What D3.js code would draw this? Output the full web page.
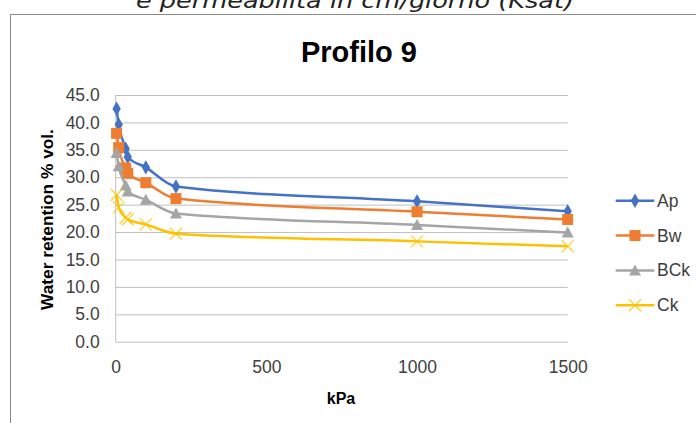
<!DOCTYPE html>
<html><head><meta charset="utf-8">
<script src="https://cdn.jsdelivr.net/npm/d3@7"></script>
<style>body{margin:0;background:#fff;} svg{display:block;}</style>
</head><body>
<svg id="c" width="696" height="423"></svg>
<script>
const kPa = [3, 10, 33, 40, 100, 200, 1000, 1500];
const Ap  = [42.5, 39.6, 35.2, 33.7, 31.8, 28.3, 25.6, 23.8];
const Bw  = [38.0, 35.4, 31.7, 30.7, 29.0, 26.1, 23.7, 22.3];
const BCk = [34.4, 32.0, 28.5, 27.4, 25.9, 23.4, 21.3, 19.9];
const Ck  = [26.8, 24.5, 22.6, 22.3, 21.4, 19.7, 18.3, 17.4];
const seriesNames = ["Ap", "Bw", "BCk", "Ck"];
const seriesColors = ["#4472C4", "#ED7D31", "#A5A5A5", "#FFC000"];
const seriesMarkers = ["diamond", "square", "triangle", "x"];
const yTicks = [0, 5, 10, 15, 20, 25, 30, 35, 40, 45];
const xTicks = [0, 500, 1000, 1500];
const title = "Profilo 9";
const xTitle = "kPa";
const yTitle = "Water retention % vol.";
const topText = "e permeabilità in cm/giorno (Ksat)";

const values = [Ap, Bw, BCk, Ck];
const svg = d3.select("#c");
const font = "'Liberation Sans', Arial, sans-serif";

const x = d3.scaleLinear().domain([0, 1500]).range([115.7, 567.7]);
const y = d3.scaleLinear().domain([0, 45]).range([341.7, 95]);

// top caption from the document (partly cut off at the top edge, as in the reference)
svg.append("text").attr("x", 355).attr("y", 8)
  .attr("text-anchor", "middle").attr("font-family", "'DejaVu Sans', sans-serif")
  .attr("font-style", "italic").attr("font-size", 21).attr("fill", "#222")
  .attr("textLength", 438).attr("lengthAdjust", "spacingAndGlyphs")
  .text(topText);

// chart border
svg.append("rect").attr("x", 10.5).attr("y", 14.5).attr("width", 800).attr("height", 600)
  .attr("fill", "#fff").attr("stroke", "#8c8c8c").attr("stroke-width", 1);

// title
svg.append("text").attr("x", 359).attr("y", 62).attr("text-anchor", "middle")
  .attr("font-family", font).attr("font-weight", "bold").attr("font-size", 29)
  .attr("fill", "#000").text(title);

// grid
const yAxis = d3.axisLeft(y).tickValues(yTicks).tickSize(-(x(1500) - x(0))).tickFormat(d3.format(".1f")).tickPadding(16);
const gy = svg.append("g").attr("transform", `translate(${x(0)},0)`).call(yAxis);
gy.select(".domain").remove();
gy.selectAll(".tick line").attr("stroke", "#bfbfbf").attr("stroke-width", 1);
gy.selectAll(".tick text").attr("font-family", font).attr("font-size", 17.5).attr("fill", "#404040");

// left axis line
svg.append("line").attr("x1", x(0)).attr("x2", x(0)).attr("y1", y(45)).attr("y2", y(0))
  .attr("stroke", "#bfbfbf").attr("stroke-width", 1);

const xAxis = d3.axisBottom(x).tickValues(xTicks).tickSize(0).tickPadding(19).tickFormat(d3.format("d"));
const gx = svg.append("g").attr("transform", `translate(0,${y(0)})`).call(xAxis);
gx.select(".domain").remove();
gx.selectAll(".tick text").attr("font-family", font).attr("font-size", 17.5).attr("fill", "#404040");

// axis titles
svg.append("text").attr("x", 341).attr("y", 404).attr("text-anchor", "middle")
  .attr("font-family", font).attr("font-weight", "bold").attr("font-size", 16).attr("fill", "#000").text(xTitle);
svg.append("text").attr("transform", `translate(53,219.5) rotate(-90)`)
  .attr("text-anchor", "middle").attr("font-family", font).attr("font-weight", "bold")
  .attr("font-size", 17.3).attr("fill", "#000").text(yTitle);

function marker(g, type, cx, cy, color) {
  if (type === "diamond") {
    g.append("path").attr("d", d3.symbol(d3.symbolDiamond, 60)()).attr("transform", `translate(${cx},${cy})`).attr("fill", color);
  } else if (type === "square") {
    g.append("rect").attr("x", cx - 5.5).attr("y", cy - 5.5).attr("width", 11).attr("height", 11).attr("fill", color);
  } else if (type === "triangle") {
    g.append("path").attr("d", `M${cx},${cy-6}L${cx+6},${cy+5}L${cx-6},${cy+5}Z`).attr("fill", color);
  } else {
    g.append("path").attr("d", `M${cx-6},${cy-6}L${cx+6},${cy+6}M${cx-6},${cy+6}L${cx+6},${cy-6}`)
      .attr("stroke", color).attr("stroke-width", 1.3).attr("stroke-opacity", 0.75).attr("fill", "none");
  }
}

const line = d3.line().x(d => x(d[0])).y(d => y(d[1])).curve(d3.curveMonotoneX);
values.forEach((vals, i) => {
  const pts = kPa.map((k, j) => [k, vals[j]]);
  const g = svg.append("g");
  g.append("path").attr("d", line(pts)).attr("fill", "none")
    .attr("stroke", seriesColors[i]).attr("stroke-width", 2.5);
  pts.forEach(p => marker(g, seriesMarkers[i], x(p[0]), y(p[1]), seriesColors[i]));
});

// legend
const legY = d3.scalePoint().domain(seriesNames).range([200.7, 305.3]);
seriesNames.forEach((n, i) => {
  const g = svg.append("g");
  const ly = legY(n);
  g.append("line").attr("x1", 615.7).attr("x2", 654.3).attr("y1", ly).attr("y2", ly)
    .attr("stroke", seriesColors[i]).attr("stroke-width", 2.5);
  marker(g, seriesMarkers[i], 635, ly, seriesColors[i]);
  g.append("text").attr("x", 657).attr("y", ly + 6).attr("font-family", font)
    .attr("font-size", 17.5).attr("fill", "#404040").text(n);
});
</script>
</body></html>
